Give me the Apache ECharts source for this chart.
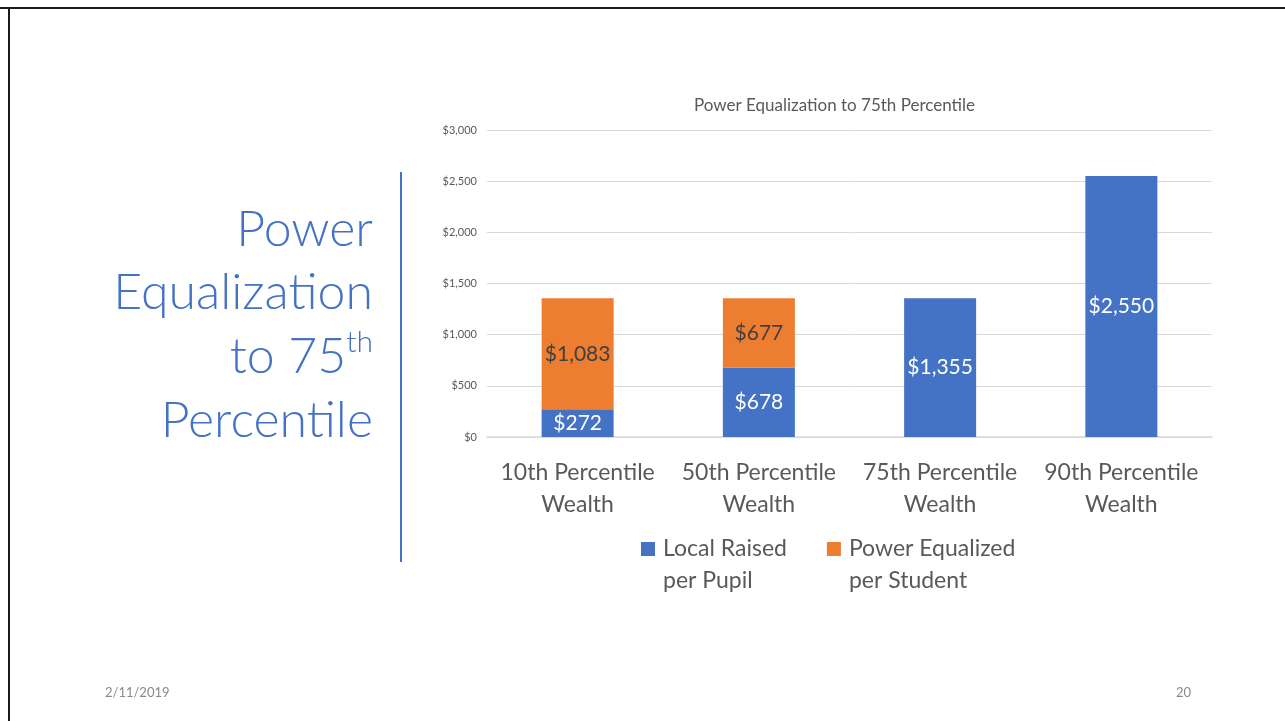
<!DOCTYPE html>
<html>
<head>
<meta charset="utf-8">
<script src="https://cdn.jsdelivr.net/npm/echarts@6/dist/echarts.min.js"></script>
<style>
html,body{margin:0;padding:0;background:#fff;}
#chart{width:1285px;height:721px;}
</style>
</head>
<body>
<div id="chart"></div>
<script>
const categories = ['10th Percentile\nWealth', '50th Percentile\nWealth', '75th Percentile\nWealth', '90th Percentile\nWealth'];
const localRaised = [272, 678, 1355, 2550];
const powerEqualized = [1083, 677, null, null];
const seriesNames = ['Local Raised\nper Pupil', 'Power Equalized\nper Student'];
const yTicks = [0, 500, 1000, 1500, 2000, 2500, 3000];

const FONT = 'Lato, "Open Sans", sans-serif';

function fmtMoney(v) {
  return '$' + Number(v).toLocaleString('en-US');
}

// measure width for superscript placement
const cvs = document.createElement('canvas');
const ctx = cvs.getContext('2d');
function textWidth(t, size, weight) {
  ctx.font = (weight || 'normal') + ' ' + size + 'px ' + FONT;
  return ctx.measureText(t).width;
}

const titleColor = '#4472C4';
const titleSize = 50;
const supSize = 30;
const titleRight = 373;
const supW = textWidth('th', supSize, 300);

// legend icon: 14x14 square at the top of a 14x46 box (so text's first line aligns with the square)
const legendIcon = 'path://M0,0L14,0L14,14L0,14Z M0,46L14,46';

const chart = echarts.init(document.getElementById('chart'), null, {renderer: 'canvas'});
chart.setOption({
  backgroundColor: '#ffffff',
  animation: false,
  textStyle: {fontFamily: FONT},
  title: {
    text: 'Power Equalization to 75th Percentile',
    left: 689,
    top: 92,
    textStyle: {fontSize: 17, fontWeight: 'normal', color: '#595959', fontFamily: FONT}
  },
  grid: {left: 487, right: 73, top: 130, bottom: 284, containLabel: false},
  legend: {
    data: seriesNames,
    left: 641,
    top: 533,
    padding: 0,
    itemGap: 40,
    itemWidth: 14,
    itemHeight: 46,
    icon: legendIcon,
    itemStyle: {borderWidth: 0},
    textStyle: {fontSize: 23, color: '#595959', lineHeight: 32, padding: [0, 0, 0, 3], fontFamily: FONT}
  },
  xAxis: {
    type: 'category',
    data: categories,
    axisLine: {lineStyle: {color: '#d9d9d9', width: 1.5}},
    axisTick: {show: false},
    axisLabel: {fontSize: 23, color: '#595959', lineHeight: 32, margin: 20, interval: 0, fontFamily: FONT}
  },
  yAxis: {
    type: 'value',
    min: 0,
    max: 3000,
    interval: 500,
    axisLine: {show: false},
    axisTick: {show: false},
    splitLine: {lineStyle: {color: '#d9d9d9', width: 1}},
    axisLabel: {fontSize: 11, color: '#595959', margin: 10, formatter: v => fmtMoney(v), fontFamily: FONT}
  },
  series: [
    {
      name: seriesNames[0],
      type: 'bar',
      stack: 'total',
      data: localRaised,
      barWidth: 72,
      itemStyle: {color: '#4472C4'},
      label: {show: true, position: 'inside', fontSize: 21, color: '#ffffff', fontFamily: FONT, formatter: p => fmtMoney(p.value)}
    },
    {
      name: seriesNames[1],
      type: 'bar',
      stack: 'total',
      data: powerEqualized,
      barWidth: 72,
      itemStyle: {color: '#ED7D31'},
      label: {show: true, position: 'inside', fontSize: 21, color: '#404040', fontFamily: FONT, formatter: p => fmtMoney(p.value)}
    }
  ],
  graphic: [
    // slide border (top and left)
    {type: 'rect', shape: {x: 0, y: 7, width: 1285, height: 2}, style: {fill: '#1a1a1a'}, silent: true},
    {type: 'rect', shape: {x: 8, y: 7, width: 2, height: 714}, style: {fill: '#1a1a1a'}, silent: true},
    // vertical rule
    {type: 'rect', shape: {x: 400, y: 172, width: 2, height: 390}, style: {fill: '#4472C4'}, silent: true},
    // slide title
    {type: 'text', style: {text: 'Power', x: titleRight, y: 230, align: 'right', verticalAlign: 'middle', fill: titleColor, font: '300 ' + titleSize + 'px ' + FONT}, silent: true},
    {type: 'text', style: {text: 'Equalization', x: titleRight, y: 293, align: 'right', verticalAlign: 'middle', fill: titleColor, font: '300 ' + titleSize + 'px ' + FONT}, silent: true},
    {type: 'text', style: {text: 'to 75', x: titleRight - supW, y: 357, align: 'right', verticalAlign: 'middle', fill: titleColor, font: '300 ' + titleSize + 'px ' + FONT}, silent: true},
    {type: 'text', style: {text: 'th', x: titleRight, y: 342, align: 'right', verticalAlign: 'middle', fill: titleColor, font: '300 ' + supSize + 'px ' + FONT}, silent: true},
    {type: 'text', style: {text: 'Percentile', x: titleRight, y: 421, align: 'right', verticalAlign: 'middle', fill: titleColor, font: '300 ' + titleSize + 'px ' + FONT}, silent: true},
    // footer
    {type: 'text', style: {text: '2/11/2019', x: 105, y: 693, align: 'left', verticalAlign: 'middle', fill: '#898989', font: '13px ' + FONT}, silent: true},
    {type: 'text', style: {text: '20', x: 1191, y: 693, align: 'right', verticalAlign: 'middle', fill: '#898989', font: '13px ' + FONT}, silent: true}
  ]
});
</script>
</body>
</html>
